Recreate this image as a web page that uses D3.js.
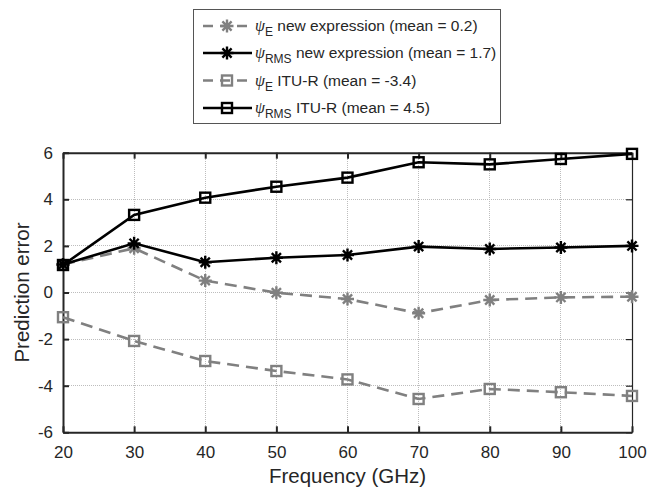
<!DOCTYPE html>
<html>
<head>
<meta charset="utf-8">
<script src="https://cdn.jsdelivr.net/npm/d3@7"></script>
<style>
  body { margin: 0; background: #fff; }
  text { font-family: Arial, "Liberation Sans", sans-serif; fill: #262626; }
</style>
</head>
<body>
<svg id="chart" width="656" height="490"></svg>
<script>
// Prediction error versus frequency
const frequencies = [20, 30, 40, 50, 60, 70, 80, 90, 100];
const psiENew   = [1.20, 1.90, 0.51, -0.01, -0.28, -0.89, -0.32, -0.21, -0.18];
const psiRmsNew = [1.20, 2.11, 1.30, 1.49, 1.61, 1.97, 1.87, 1.93, 2.00];
const psiEItu   = [-1.06, -2.08, -2.94, -3.37, -3.73, -4.57, -4.14, -4.28, -4.44];
const psiRmsItu = [1.18, 3.33, 4.07, 4.54, 4.93, 5.59, 5.50, 5.73, 5.95];

const xTicks = [20, 30, 40, 50, 60, 70, 80, 90, 100];
const yTicks = [-6, -4, -2, 0, 2, 4, 6];

const legendSubs = ["E", "RMS", "E", "RMS"];
const legendTexts = [
  " new expression (mean = 0.2)",
  " new expression (mean = 1.7)",
  " ITU-R (mean = -3.4)",
  " ITU-R (mean = 4.5)"
];
const xLabel = "Frequency (GHz)";
const yLabel = "Prediction error";

// line / marker appearance for each series, in legend order
const looks = [
  { color: "#808080", dash: "12,7", marker: "star" },
  { color: "#000000", dash: null,   marker: "star" },
  { color: "#808080", dash: "12,7", marker: "square" },
  { color: "#000000", dash: null,   marker: "square" }
];
const seriesValues = [psiENew, psiRmsNew, psiEItu, psiRmsItu];

const svg = d3.select("#chart");
const plotLeft = 63, plotRight = 632, plotTop = 152.7, plotBottom = 432.3;

const x = d3.scaleLinear().domain([20, 100]).range([plotLeft, plotRight]);
const y = d3.scaleLinear().domain([-6, 6]).range([plotBottom, plotTop]);

// grid
const grid = svg.append("g").attr("stroke", "#bdbdbd").attr("stroke-width", 1)
  .attr("stroke-dasharray", "1,1").attr("shape-rendering", "crispEdges");
grid.selectAll(".gx").data(xTicks.slice(1, -1)).join("line")
  .attr("x1", d => x(d)).attr("x2", d => x(d)).attr("y1", plotTop).attr("y2", plotBottom);
grid.selectAll(".gy").data(yTicks.slice(1, -1)).join("line")
  .attr("x1", plotLeft).attr("x2", plotRight).attr("y1", d => y(d)).attr("y2", d => y(d));

// axes with inward ticks; plain hyphen for negatives
const fmt = d => String(d);
const axB = d3.axisBottom(x).tickValues(xTicks).tickSizeInner(-6).tickSizeOuter(0).tickPadding(14).tickFormat(fmt);
const axT = d3.axisTop(x).tickValues(xTicks).tickSizeInner(-6).tickSizeOuter(0).tickFormat("");
const axL = d3.axisLeft(y).tickValues(yTicks).tickSizeInner(-6).tickSizeOuter(0).tickPadding(10).tickFormat(fmt);
const axR = d3.axisRight(y).tickValues(yTicks).tickSizeInner(-6).tickSizeOuter(0).tickFormat("");

function styleAxis(g, w) {
  g.select(".domain").attr("stroke", "#262626").attr("stroke-width", w);
  g.selectAll(".tick line").attr("stroke", "#262626").attr("stroke-width", w);
  g.selectAll(".tick text").attr("font-size", 17).attr("fill", "#262626")
    .attr("font-family", "Arial, 'Liberation Sans', sans-serif");
}
svg.append("g").attr("transform", `translate(0,${plotBottom})`).call(axB).call(g => styleAxis(g, 2));
svg.append("g").attr("transform", `translate(0,${plotTop})`).call(axT).call(g => styleAxis(g, 2));
svg.append("g").attr("transform", `translate(${plotLeft},0)`).call(axL).call(g => styleAxis(g, 2));
svg.append("g").attr("transform", `translate(${plotRight},0)`).call(axR).call(g => styleAxis(g, 1.2));

// axis titles
svg.append("text").attr("x", (plotLeft + plotRight) / 2).attr("y", 483)
  .attr("text-anchor", "middle").attr("font-size", 20.5).text(xLabel);
svg.append("text").attr("transform", `translate(29,${(plotTop + plotBottom) / 2}) rotate(-90)`)
  .attr("text-anchor", "middle").attr("font-size", 20.5).text(yLabel);

// marker shapes
const starPath = "M-6.5,0H6.5M0,-6.5V6.5M-4.6,-4.6L4.6,4.6M-4.6,4.6L4.6,-4.6";
function drawMarker(g, kind, color) {
  if (kind === "star") {
    g.append("path").attr("d", starPath).attr("stroke", color)
      .attr("stroke-width", 2.4).attr("fill", "none");
  } else {
    g.append("rect").attr("x", -5).attr("y", -5).attr("width", 10).attr("height", 10)
      .attr("stroke", color).attr("stroke-width", 2.4).attr("fill", "none");
  }
}

// series lines and markers
const line = d3.line().x(d => x(d[0])).y(d => y(d[1]));
seriesValues.forEach((vals, i) => {
  const look = looks[i];
  const pts = frequencies.map((f, k) => [f, vals[k]]);
  const g = svg.append("g");
  g.append("path").datum(pts).attr("d", line).attr("fill", "none")
    .attr("stroke", look.color).attr("stroke-width", 2.6)
    .attr("stroke-dasharray", look.dash);
  pts.forEach(p => {
    const m = g.append("g").attr("transform", `translate(${x(p[0])},${y(p[1])})`);
    drawMarker(m, look.marker, look.color);
  });
});

// legend
const legend = svg.append("g");
legend.append("rect").attr("x", 193.5).attr("y", 9.5).attr("width", 307).attr("height", 114)
  .attr("fill", "#fff").attr("stroke", "#555").attr("stroke-width", 1);
const rowY = [26, 53, 80.5, 108];
looks.forEach((look, i) => {
  const r = legend.append("g").attr("transform", `translate(0,${rowY[i]})`);
  r.append("line").attr("x1", 203).attr("x2", 252).attr("y1", 0).attr("y2", 0)
    .attr("stroke", look.color).attr("stroke-width", 2.6)
    .attr("stroke-dasharray", look.dash ? "10,7" : null);
  const m = r.append("g").attr("transform", "translate(227,0)");
  drawMarker(m, look.marker, look.color);
  const t = r.append("text").attr("x", 255).attr("y", 5).attr("font-size", 15.5);
  t.append("tspan").attr("font-family", "'Liberation Serif', 'DejaVu Serif', serif")
    .attr("font-style", "italic").attr("font-size", 16).text("\u03C8");
  t.append("tspan").attr("font-size", 12).attr("dy", 5).text(legendSubs[i]);
  t.append("tspan").attr("dy", -5).text(legendTexts[i]);
});
</script>
</body>
</html>
